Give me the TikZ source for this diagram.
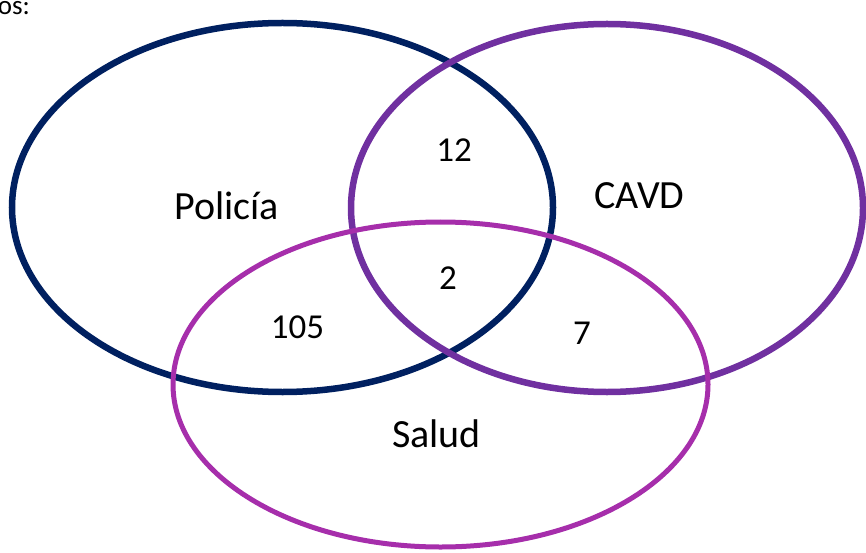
\documentclass[tikz,border=0pt]{standalone}
\usepackage{fontspec}
\setmainfont{Carlito}
\definecolor{navyc}{HTML}{002060}
\definecolor{purplec}{HTML}{7030A0}
\definecolor{magentac}{HTML}{A62EAB}
\begin{document}
\begin{tikzpicture}[x=1pt,y=-1pt,
  setlabel/.style={font=\fontsize{40}{48}\selectfont,anchor=base,inner sep=0pt},
  numlabel/.style={font=\fontsize{35}{42}\selectfont,anchor=base,inner sep=0pt}]
\useasboundingbox (0,0) rectangle (866,553);
\draw[navyc,line width=6.5pt] (282.5,207.5) ellipse [x radius=270.5pt,y radius=184.5pt];
\draw[purplec,line width=6.5pt] (607,208) ellipse [x radius=256pt,y radius=184pt];
\draw[magentac,line width=5pt] (440.5,384.5) ellipse [x radius=267.5pt,y radius=162.5pt];
\node[font=\fontsize{27}{32}\selectfont,anchor=base east,inner sep=0pt] (top) at (30,15) {os:};
\node[setlabel] (pol) at (226.5,219) {Policía};
\node[setlabel] (cavd) at (639.5,208) {CAVD};
\node[setlabel] (sal) at (436.5,447) {Salud};
\node[numlabel] (n105) at (297.5,338) {105};
\node[numlabel] (n12) at (454,162) {12};
\node[numlabel] (n2) at (448,289) {2};
\node[numlabel] (n7) at (582,344) {7};
\end{tikzpicture}
\end{document}
